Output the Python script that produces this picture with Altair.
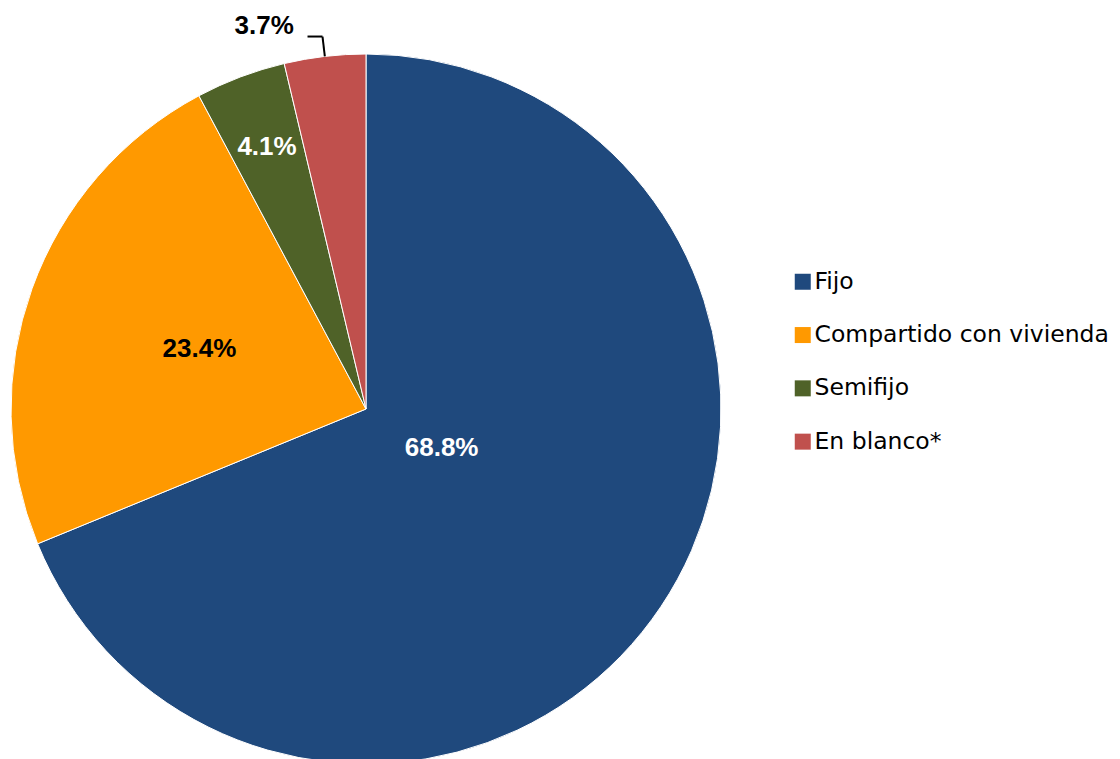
import altair as alt
import pandas as pd

categories = ["Fijo", "Compartido con vivienda", "Semifijo", "En blanco*"]
values = [68.8, 23.4, 4.1, 3.7]
labels = ["68.8%", "23.4%", "4.1%", "3.7%"]
colors = ["#1F497D", "#FF9900", "#4F6228", "#C0504D"]

df = pd.DataFrame({
    "idx": list(range(len(categories))),
    "category": categories,
    "value": values,
    "label": labels,
})

CX, CY, R = 358, 401, 355

arc = alt.Chart(df).mark_arc(outerRadius=R, stroke="white", strokeWidth=1).encode(
    theta=alt.Theta("value:Q", stack=True),
    order=alt.Order("idx:Q"),
    color=alt.Color(
        "category:N",
        sort=categories,
        scale=alt.Scale(domain=categories, range=colors),
        legend=alt.Legend(
            title=None,
            orient="none",
            legendX=783,
            legendY=262,
            symbolType="square",
            symbolSize=256,
            symbolStrokeWidth=0,
            labelFont="DejaVu Sans",
            labelFontSize=23.5,
            labelColor="#000000",
            labelOffset=0,
            rowPadding=28.3,
            padding=0,
            labelLimit=400,
        ),
    ),
    x=alt.value(CX),
    y=alt.value(CY),
)

base = alt.Chart(df).transform_window(
    cum="sum(value)", sort=[alt.SortField("idx")]
).transform_joinaggregate(total="sum(value)").transform_calculate(
    mid="(datum.cum - datum.value / 2) / datum.total * 2 * PI"
)

def label_layer(cat, radius, color, dx=0, dy=0):
    return base.transform_filter(alt.datum.category == cat).mark_text(
        radius=radius, font="Liberation Sans", fontSize=26, fontWeight="bold",
        color=color, align="center", baseline="middle", dx=dx, dy=dy,
    ).encode(
        theta=alt.Theta("mid:Q", scale=None),
        text="label:N",
        x=alt.value(CX),
        y=alt.value(CY),
    )

t1 = label_layer("Fijo", 85, "white", dx=5, dy=-8)
t2 = label_layer("Compartido con vivienda", 177, "black")
t3 = label_layer("Semifijo", 280, "white")
t4 = label_layer("En blanco*", 395, "black", dx=-56, dy=9)

lead = base.transform_filter(alt.datum.category == "En blanco*").transform_calculate(
    xa=f"{CX} + {R} * sin(datum.mid)",
    ya=f"{CY} - {R} * cos(datum.mid)",
    xb=f"{CX} + {R + 20} * sin(datum.mid)",
    yb=f"{CY} - {R + 20} * cos(datum.mid)",
    xc=f"{CX} + {R + 20} * sin(datum.mid) - 15",
)
rule1 = lead.mark_rule(color="black", strokeWidth=2).encode(
    x=alt.X("xa:Q", scale=None), y=alt.Y("ya:Q", scale=None),
    x2="xb:Q", y2="yb:Q",
)
rule2 = lead.mark_rule(color="black", strokeWidth=2).encode(
    x=alt.X("xb:Q", scale=None), y=alt.Y("yb:Q", scale=None),
    x2="xc:Q", y2="yb:Q",
)

chart = alt.layer(arc, t1, t2, t3, t4, rule1, rule2).properties(
    width=1104, height=751, autosize="none", padding=0
).configure_view(stroke=None)

chart.save("out.html", embed_options={"renderer": "svg", "actions": False})
